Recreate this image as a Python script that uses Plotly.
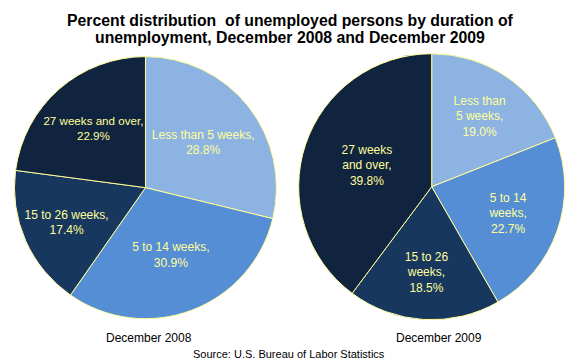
import plotly.graph_objects as go

categories = ["Less than 5 weeks", "5 to 14 weeks", "15 to 26 weeks", "27 weeks and over"]
values_2008 = [28.8, 30.9, 17.4, 22.9]
values_2009 = [19.0, 22.7, 18.5, 39.8]
labels_2008 = ["Less than 5 weeks,", "5 to 14 weeks,", "15 to 26 weeks,", "27 weeks and over,"]
labels_2009 = ["Less than<br>5 weeks,", "5 to 14<br>weeks,", "15 to 26<br>weeks,", "27 weeks<br>and over,"]
pie_titles = ["December 2008", "December 2009"]
title_lines = ["Percent distribution  of unemployed persons by duration of",
               "unemployment, December 2008 and December 2009"]
source = "Source: U.S. Bureau of Labor Statistics"

colors = ["#8DB3E2", "#558ED5", "#17375E", "#10243F"]
font_family = "Liberation Sans, Arial, sans-serif"

# the page body has an 8px margin, so positions are offset to compensate
OFF = 8

def make_text(lbls, vals):
    return [f"{l}<br>{v:.1f}%" for l, v in zip(lbls, vals)]

fig = go.Figure()
fig.add_trace(go.Pie(
    labels=categories, values=values_2008, text=make_text(labels_2008, values_2008),
    textinfo="text", textposition="inside", insidetextorientation="horizontal",
    sort=False, direction="clockwise", rotation=0,
    marker=dict(colors=colors, line=dict(color="#FFFF99", width=1)),
    textfont=dict(color="#FFFF99", size=12, family=font_family),
    domain=dict(x=[0.011, 0.463], y=[0.137, 0.865]),
    hoverinfo="label+percent", showlegend=False,
))
fig.add_trace(go.Pie(
    labels=categories, values=values_2009, text=make_text(labels_2009, values_2009),
    textinfo="text", textposition="inside", insidetextorientation="horizontal",
    sort=False, direction="clockwise", rotation=0,
    marker=dict(colors=colors, line=dict(color="#FFFF99", width=1)),
    textfont=dict(color="#FFFF99", size=12, family=font_family),
    domain=dict(x=[0.501, 0.960], y=[0.134, 0.873]),
    hoverinfo="label+percent", showlegend=False,
))

def ann(text, xpx, ypx, size, bold=False):
    return dict(text=f"<b>{text}</b>" if bold else text,
                x=(xpx - OFF) / 580, y=1 - (ypx - OFF) / 360,
                xref="paper", yref="paper", xanchor="center", yanchor="middle",
                showarrow=False, font=dict(size=size, color="black", family=font_family))

fig.update_layout(
    width=580, height=360,
    margin=dict(l=0, r=0, t=0, b=0),
    paper_bgcolor="white", plot_bgcolor="white",
    font=dict(family=font_family, color="black"),
    annotations=[
        ann(title_lines[0], 290, 21, 15.8, bold=True),
        ann(title_lines[1], 290, 37.5, 15.8, bold=True),
        ann(pie_titles[0], 148.5, 338, 12),
        ann(pie_titles[1], 439, 338, 12),
        ann(source, 289, 353.5, 11),
    ],
)

fig.write_html("out.html")
